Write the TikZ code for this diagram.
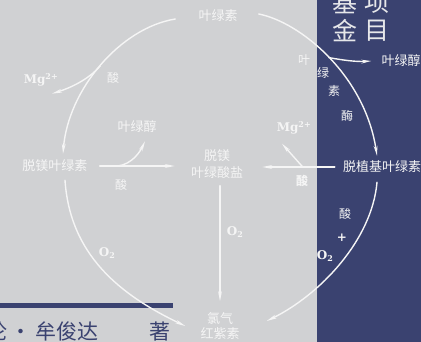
\documentclass[tikz,border=0pt]{standalone}
\usepackage{fontspec}
\usepackage{amsmath}
\usetikzlibrary{arrows.meta}
\newfontfamily\cjk{Noto Sans CJK SC}
\newfontfamily\chemfont{DejaVu Serif}

\definecolor{coverGray}{HTML}{D0D1D3}
\definecolor{coverNavy}{HTML}{3A4270}
\definecolor{chalk}{HTML}{F5F5F5}

\tikzset{
  flow/.style={draw=chalk, line width=1.4pt, line cap=round, -{Stealth[length=10pt,width=3.8pt]}},
  compound/.style={text=chalk, font=\cjk\fontsize{13}{17}\selectfont, align=center, inner sep=1pt},
  reagent/.style={text=chalk, font=\chemfont\bfseries\fontsize{12}{12}\selectfont, inner sep=1pt},
  hint/.style={text=chalk, font=\cjk\fontsize{12}{12}\selectfont, inner sep=0pt},
  title/.style={text=chalk!92!coverNavy, font=\cjk\fontsize{25}{25}\selectfont, inner sep=0pt},
}

\begin{document}
\begin{tikzpicture}[x=1pt,y=-1pt]
  \useasboundingbox (0,0) rectangle (421,342);
  \fill[coverGray] (0,0) rectangle (317,342);
  \fill[coverNavy] (317,0) rectangle (421,342);
  \fill[coverNavy] (0,303) rectangle (173,308);

  % cover lettering
  \foreach \ch/\x/\y [count=\i] in {基/345/3, 项/377/3, 金/345/31, 目/377/31}
    \node[title] (title\i) at (\x,\y) {\ch};
  \node[anchor=base west, inner sep=0pt, text=coverNavy, font=\cjk\fontsize{21}{21}\selectfont] (author) at (-14,339) {论\makebox[28pt]{·}牟俊达};
  \node[anchor=base, inner sep=0pt, text=coverNavy, font=\cjk\fontsize{21}{21}\selectfont] (zhu) at (160,339) {著};

  \begin{scope}[every node/.style=compound]
    \node (chl) at (218,16) {叶绿素};
    \node (pheo) at (55,166) {脱镁叶绿素};
    \node (pheide) at (217,164) {脱镁\\叶绿酸盐};
    \node (chlide) at (382,167) {脱植基叶绿素};
    \node[font=\cjk\fontsize{13}{15}\selectfont] (chlorin) at (220,326) {氯气\\红紫素};
    \node (phyL) at (137,127) {叶绿醇};
    \node (phyR) at (401,61) {叶绿醇};
  \end{scope}

  \begin{scope}[every node/.style=reagent]
    \node (mgL) at (41,80) {Mg\textsuperscript{2+}};
    \node (mgR) at (294,128) {Mg\textsuperscript{2+}};
    \node (oxL) at (107,253) {O\raisebox{-2.5pt}{\fontsize{8}{8}\selectfont 2}};
    \node (oxM) at (235,232) {O\raisebox{-2.5pt}{\fontsize{8}{8}\selectfont 2}};
    \node (oxR) at (325,256) {O\raisebox{-2.5pt}{\fontsize{8}{8}\selectfont 2}};
    \node (plus) at (342,238) {+};
  \end{scope}

  \begin{scope}[every node/.style=hint]
    \node (acidL) at (113,78) {酸};
    \node (acidM) at (121,185) {酸};
    \node[font=\cjk\bfseries\fontsize{12}{12}\selectfont] (acidR) at (302,181) {酸};
    \node (acidO) at (345,214) {酸};
    \node (enz1) at (304,60) {叶};
    \node (enz2) at (323,73) {绿};
    \node (enz3) at (334,91) {素};
    \node (enz4) at (347,116) {酶};
  \end{scope}

  % chlorophyll -> pheophytin, Mg off
  \draw[flow] ([xshift=-22pt,yshift=-3pt]chl.west) .. controls (120,28) and (68,90) .. ([xshift=8pt,yshift=5pt]pheo.north) coordinate[pos=.5] (jMg);
  \draw[flow] (jMg) .. controls (88,80) and (70,88) .. ([xshift=11pt,yshift=-6pt]mgL.south);

  % chlorophyll -> chlorophyllide, phytol off
  \draw[flow] ([xshift=20pt,yshift=2pt]chl.east) .. controls (300,22) and (365,75) .. ([xshift=-5pt,yshift=4pt]chlide.north) coordinate[pos=.5] (jPhyR);
  \draw[flow] (jPhyR) .. controls (342,60) and (356,62) .. ([xshift=-9pt]phyR.west);

  % both into pheophorbide
  \draw[flow, shorten <=11pt, shorten >=15pt] (pheo.east) -- (pheo.east -| pheide.west) coordinate[pos=.29] (jPhyL);
  \draw[flow] (jPhyL) .. controls (132,164) and (140,152) .. ([xshift=8pt,yshift=-7pt]phyL.south);
  \draw[flow, shorten <=7pt, shorten >=18pt] (chlide.west) -- (chlide.west -| pheide.east) coordinate[pos=.40] (jMgR);
  \draw[flow] (jMgR) -- ([xshift=-12pt,yshift=-8pt]mgR.south);

  % oxidation down to chlorin
  \draw[flow, shorten <=6pt, shorten >=10pt] (pheide.south -| chlorin.north) -- (chlorin.north);
  \draw[flow] ([xshift=10pt,yshift=-7pt]pheo.south) .. controls (70,255) and (120,295) .. ([xshift=-14pt]chlorin.west);
  \draw[flow] ([xshift=-5pt,yshift=-8pt]chlide.south) .. controls (372,240) and (320,295) .. ([xshift=26pt,yshift=5pt]chlorin.east);
\end{tikzpicture}
\end{document}
